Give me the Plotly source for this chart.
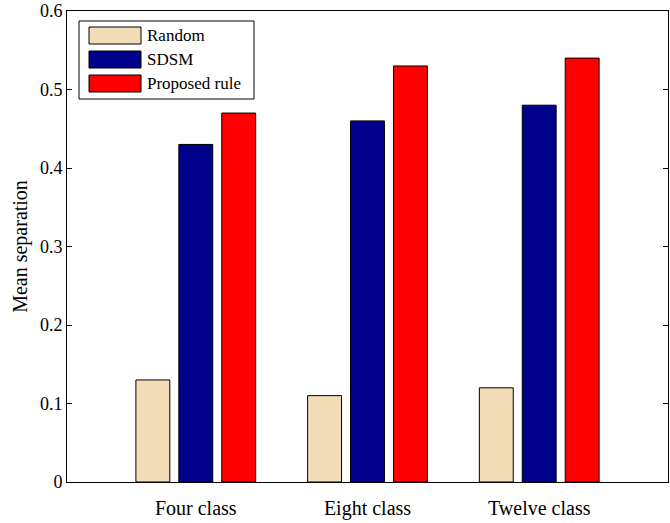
import plotly.graph_objects as go

categories = ["Four class", "Eight class", "Twelve class"]
series_names = ["Random", "SDSM", "Proposed rule"]
random_vals = [0.13, 0.11, 0.12]
sdsm_vals = [0.43, 0.46, 0.48]
proposed_vals = [0.47, 0.53, 0.54]
y_ticks = [0, 0.1, 0.2, 0.3, 0.4, 0.5, 0.6]

colors = ["#F3DDB8", "#00008C", "#FF0000"]
values = [random_vals, sdsm_vals, proposed_vals]
xpos = [1, 2, 3]

FONT = "Liberation Serif"
W, H = 670, 523
L, R, T, B = 67, 2, 11, 41

fig = go.Figure()
for name, vals, c in zip(series_names, values, colors):
    fig.add_trace(go.Bar(
        x=xpos, y=vals, name=name, showlegend=False,
        marker=dict(color=c, line=dict(color="#000000", width=1)),
    ))

# custom legend (MATLAB-style wide swatches)
pw = W - L - R
ph = H - T - B
def px(x):
    return (x - L) / pw
def py(y):
    return 1 - (y - T) / ph

shapes = [dict(type="rect", xref="paper", yref="paper",
               x0=px(79), x1=px(254), y0=py(99), y1=py(21),
               line=dict(color="#000000", width=1), fillcolor="white", layer="above")]
annotations = []
for i, (name, c) in enumerate(zip(series_names, colors)):
    yc = 35.5 + 24 * i
    shapes.append(dict(type="rect", xref="paper", yref="paper",
                       x0=px(89), x1=px(141), y0=py(yc + 8.5), y1=py(yc - 8.5),
                       line=dict(color="#000000", width=1), fillcolor=c, layer="above"))
    annotations.append(dict(xref="paper", yref="paper", x=px(145), y=py(yc),
                            text=name, showarrow=False, xanchor="left", yanchor="middle",
                            font=dict(family=FONT, size=17, color="#000000")))

fig.update_layout(
    width=W, height=H,
    margin=dict(l=L, r=R, t=T, b=B),
    paper_bgcolor="white", plot_bgcolor="white",
    barmode="group", bargap=0.25, bargroupgap=0.21,
    font=dict(family=FONT, size=17, color="#000000"),
    shapes=shapes, annotations=annotations,
    xaxis=dict(range=[0.25, 3.75], tickvals=xpos, ticktext=categories,
               showgrid=False, zeroline=False, ticks="", showline=True,
               linecolor="#000000", linewidth=1, mirror=True,
               tickfont=dict(family=FONT, size=20), ticklabelstandoff=8),
    yaxis=dict(range=[0, 0.6], tickvals=y_ticks, ticktext=[str(v) for v in y_ticks],
               showgrid=False, zeroline=False, ticks="inside", ticklen=5,
               tickcolor="#000000", showline=True, linecolor="#000000", linewidth=1,
               mirror="ticks", tickfont=dict(family=FONT, size=18),
               title=dict(text="Mean separation", font=dict(family=FONT, size=20), standoff=6)),
)

fig.write_html("out.html", config={"displayModeBar": False},
               post_script="document.body.style.margin='0';")
